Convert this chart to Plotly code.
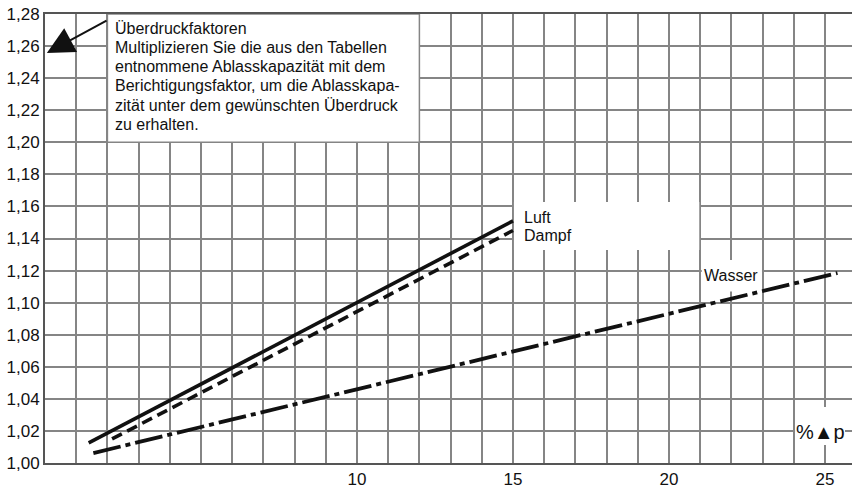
import plotly.graph_objects as go

# ---- data ----
luft_x = [1.4, 15.0]
luft_y = [1.0125, 1.151]
dampf_x = [2.15, 15.0]
dampf_y = [1.015, 1.145]
wasser_x = [1.55, 25.4]
wasser_y = [1.0062, 1.1185]

x_tickvals = list(range(0, 26))
x_ticktext = ["" if v not in (10, 15, 20, 25) else str(v) for v in x_tickvals]
y_tickvals = [1.00 + 0.02 * i for i in range(15)]
y_ticktext = [f"{v:.2f}".replace(".", ",") for v in y_tickvals]

label_luft = "Luft"
label_dampf = "Dampf"
label_wasser = "Wasser"
axis_label = "%▲p"
note_lines = ["Überdruckfaktoren",
              "Multiplizieren Sie die aus den Tabellen",
              "entnommene Ablasskapazität mit dem",
              "Berichtigungsfaktor, um die Ablasskapa-",
              "zität unter dem gewünschten Überdruck",
              "zu erhalten."]

FONT = "Liberation Sans, Arial, Helvetica, sans-serif"
GRID = "#858585"
INK = "#111111"

fig = go.Figure()
fig.add_trace(go.Scatter(x=luft_x, y=luft_y, mode="lines", name=label_luft,
                         line=dict(color=INK, width=3.6)))
fig.add_trace(go.Scatter(x=dampf_x, y=dampf_y, mode="lines", name=label_dampf,
                         line=dict(color=INK, width=3.6, dash="11px,6px")))
fig.add_trace(go.Scatter(x=wasser_x, y=wasser_y, mode="lines", name=label_wasser,
                         line=dict(color=INK, width=3.8, dash="28px,5px,5px,5px")))

# white label boxes covering the grid
fig.add_shape(type="rect", x0=2, x1=12, y0=1.20, y1=1.28, layer="between",
              fillcolor="white", line=dict(color=GRID, width=1.5))
fig.add_shape(type="rect", x0=15.03, x1=20.97, y0=1.1328, y1=1.1628, layer="between",
              fillcolor="white", line=dict(width=0))
fig.add_shape(type="rect", x0=21.05, x1=22.98, y0=1.107, y1=1.1266, layer="between",
              fillcolor="white", line=dict(width=0))
fig.add_shape(type="rect", x0=24.04, x1=25.64, y0=1.0112, y1=1.0349, layer="between",
              fillcolor="white", line=dict(width=0))

# note text, one line each for the tight leading of the original
for i, line in enumerate(note_lines):
    fig.add_annotation(x=2, y=1.28, xref="x", yref="y", xanchor="left", yanchor="middle",
                       xshift=6, yshift=-(14 + 19.3 * i), text=line, showarrow=False,
                       align="left", font=dict(family=FONT, size=16, color=INK))
fig.add_annotation(x=0.06, y=1.2557, ax=2.02, ay=1.2763, axref="x", ayref="y",
                   xref="x", yref="y", text="", showarrow=True, arrowhead=2,
                   arrowsize=2.7, arrowwidth=2, arrowcolor=INK, standoff=0)
fig.add_annotation(x=15.3, y=1.1534, xanchor="left", yanchor="middle",
                   text=label_luft, showarrow=False,
                   font=dict(family=FONT, size=16, color=INK))
fig.add_annotation(x=15.3, y=1.1416, xanchor="left", yanchor="middle",
                   text=label_dampf, showarrow=False,
                   font=dict(family=FONT, size=16, color=INK))
fig.add_annotation(x=22.0, y=1.1172, xanchor="center", yanchor="middle",
                   text=label_wasser, showarrow=False,
                   font=dict(family=FONT, size=16, color=INK))
fig.add_annotation(x=24.87, y=1.0193, xanchor="center", yanchor="middle",
                   text=axis_label, showarrow=False,
                   font=dict(family=FONT, size=20, color=INK))

fig.update_layout(
    width=852, height=493,
    margin=dict(l=45, r=0, t=14, b=30),
    paper_bgcolor="white", plot_bgcolor="white",
    showlegend=False,
    font=dict(family=FONT, size=17, color=INK),
    xaxis=dict(range=[0, 807 / 31.2], tickvals=x_tickvals, ticktext=x_ticktext,
               showgrid=True, gridcolor=GRID, gridwidth=1.5, zeroline=False,
               showline=True, linecolor="#555555", linewidth=2, mirror=True,
               ticks="", tickfont=dict(size=17)),
    yaxis=dict(range=[1.00, 1.28], tickvals=y_tickvals, ticktext=y_ticktext,
               showgrid=True, gridcolor=GRID, gridwidth=1.5, zeroline=False,
               showline=True, linecolor="#555555", linewidth=2,
               ticks="", tickfont=dict(size=17), ticklabeloverflow="allow"),
)

# remove the browser's default 8px body margin so the figure fills the window
fig.write_html("out.html", config={"displayModeBar": False},
               post_script="document.body.style.margin='0px';document.body.style.overflow='hidden';")
